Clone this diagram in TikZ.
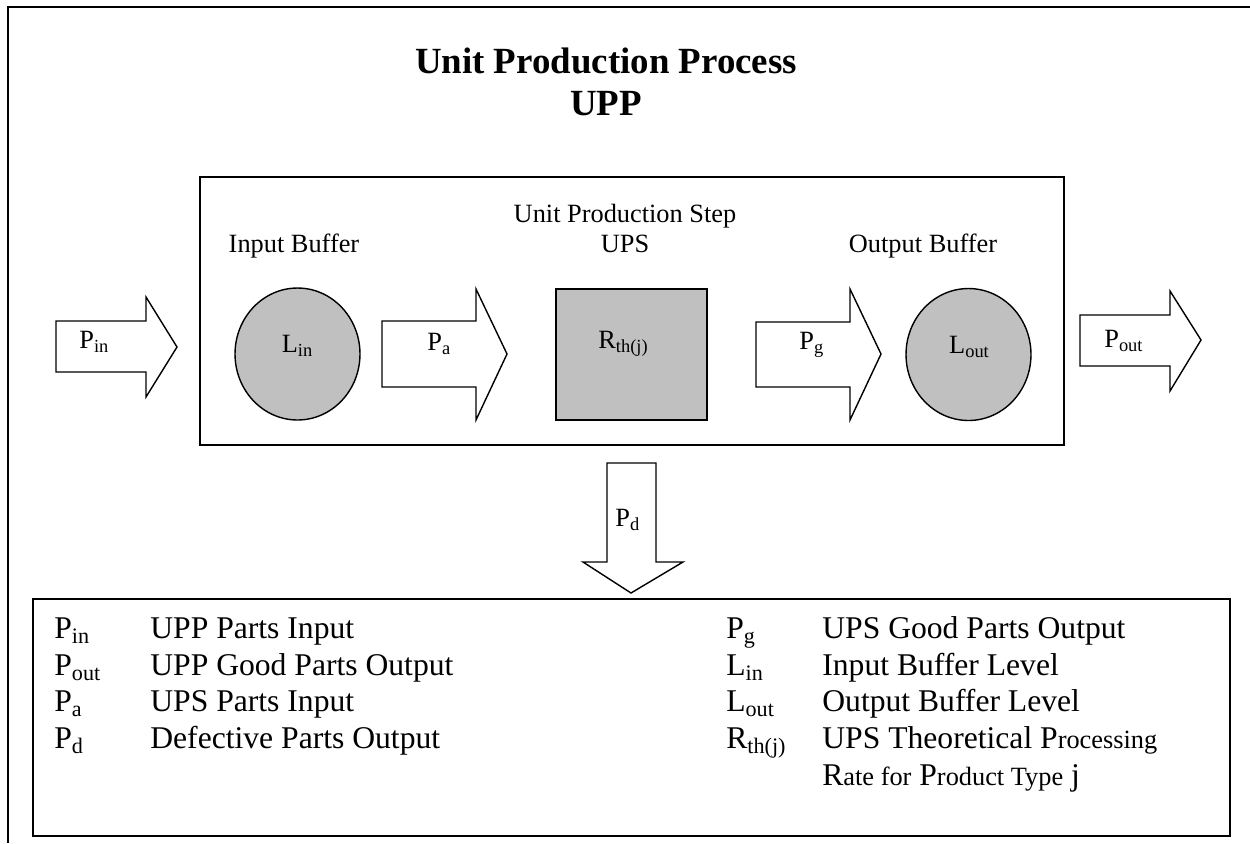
\documentclass[tikz,border=0pt]{standalone}
\usepackage{fontspec}
\setmainfont{Liberation Serif}
\usetikzlibrary{shapes.geometric}
\definecolor{bufgray}{RGB}{192,192,192}
\newcommand{\sbs}[2]{#1\raisebox{-0.17em}{\scalebox{0.7}{#2}}}
\newcommand{\smpart}[1]{{\fontsize{15}{17}\selectfont #1}}

\tikzset{
  frame/.style={line width=1pt},
  blockarr/.style={line width=0.8pt, fill=white},
  buffer/.style={ellipse, draw, line width=0.8pt, fill=bufgray, minimum width=2.5cm, minimum height=2.64cm, inner sep=0pt},
  stepbox/.style={rectangle, draw, line width=0.8pt, fill=bufgray, minimum width=3.02cm, minimum height=2.62cm, inner sep=0pt},
  lbl/.style={font=\fontsize{15}{17}\selectfont, inner sep=0pt},
  titlefont/.style={font=\fontsize{21}{24}\selectfont\bfseries, inner sep=0pt, anchor=base},
  legend/.style={font=\fontsize{18}{21}\selectfont, anchor=base west, inner sep=0pt},
}

\begin{document}
\begin{tikzpicture}[line cap=butt,line join=miter,x=0.02cm,y=-0.02cm]
\useasboundingbox (0,0) rectangle (1250,843);
% outer frame (only top and left edges in view)
\draw[frame] (8,843) -- (8,7) -- (1250,7);
\node[titlefont] (title) at (606,73) {Unit Production Process};
\node[titlefont] (titletag) at (606,115) {UPP};

% unit production step box
\draw[frame] (200,177) rectangle (1064,445);
\node[lbl, anchor=base] (ibuf) at (294,252) {Input Buffer};
\node[lbl, anchor=base] (obuf) at (923,252) {Output Buffer};
\node[lbl, anchor=base] (stepname) at (625,222) {Unit Production Step};
\node[lbl, anchor=base] (steptag) at (625,252) {UPS};

% buffers and step
\node[buffer] (Lin) at (297.5,354) {};
\node[lbl, anchor=base] (LinTxt) at (297,352) {\sbs{L}{in}};
\node[stepbox] (Rth) at (631.5,354.5) {};
\node[lbl, anchor=base] (RthTxt) at (623,348) {\sbs{R}{th(j)}};
\node[buffer] (Lout) at (968.5,354.5) {};
\node[lbl, anchor=base] (LoutTxt) at (969,353) {\sbs{L}{out}};

% block arrows
\draw[blockarr] (56,321) -- (146,321) -- (146,297) -- (177,347) -- (146,397) -- (146,372) -- (56,372) -- cycle;
\node[lbl, anchor=base west] (Pin) at (79,348) {\sbs{P}{in}};
\draw[blockarr] (382,321) -- (476,321) -- (476,289) -- (507,354) -- (476,420) -- (476,387) -- (382,387) -- cycle;
\node[lbl, anchor=base west] (Pa) at (427,350) {\sbs{P}{a}};
\draw[blockarr] (756,322) -- (850,322) -- (850,289) -- (881,354) -- (850,420) -- (850,387) -- (756,387) -- cycle;
\node[lbl, anchor=base west] (Pg) at (799,349) {\sbs{P}{g}};
\draw[blockarr] (1080,315) -- (1170,315) -- (1170,291) -- (1201,340) -- (1170,391) -- (1170,366) -- (1080,366) -- cycle;
\node[lbl, anchor=base west] (Pout) at (1104,347) {\sbs{P}{out}};
\draw[blockarr] (607,463) -- (656,463) -- (656,562) -- (683,562) -- (631,593) -- (583,562) -- (607,562) -- cycle;
\node[lbl, anchor=base west] (Pd) at (615,526) {\sbs{P}{d}};

% legend
\draw[frame] (33,599) rectangle (1230,836);
\node[legend] (kPin) at (54,638) {\sbs{P}{in}};
\node[legend] (dPin) at (150,638) {UPP Parts Input};
\node[legend] (kPout) at (54,675) {\sbs{P}{out}};
\node[legend] (dPout) at (150,675) {UPP Good Parts Output};
\node[legend] (kPa) at (54,711) {\sbs{P}{a}};
\node[legend] (dPa) at (150,711) {UPS Parts Input};
\node[legend] (kPd) at (54,748) {\sbs{P}{d}};
\node[legend] (dPd) at (150,748) {Defective Parts Output};
\node[legend] (kPg) at (726,638) {\sbs{P}{g}};
\node[legend] (dPg) at (822,638) {UPS Good Parts Output};
\node[legend] (kLin) at (726,675) {\sbs{L}{in}};
\node[legend] (dLin) at (822,675) {Input Buffer Level};
\node[legend] (kLout) at (726,711) {\sbs{L}{out}};
\node[legend] (dLout) at (822,711) {Output Buffer Level};
\node[legend] (kRth) at (726,748) {\sbs{R}{th(j)}};
\node[legend] (dRth) at (822,748) {UPS Theoretical P\smpart{rocessing}};
\node[legend] (dRth2) at (822,785) {R\smpart{ate for} P\smpart{roduct Type} j};
\end{tikzpicture}
\end{document}
